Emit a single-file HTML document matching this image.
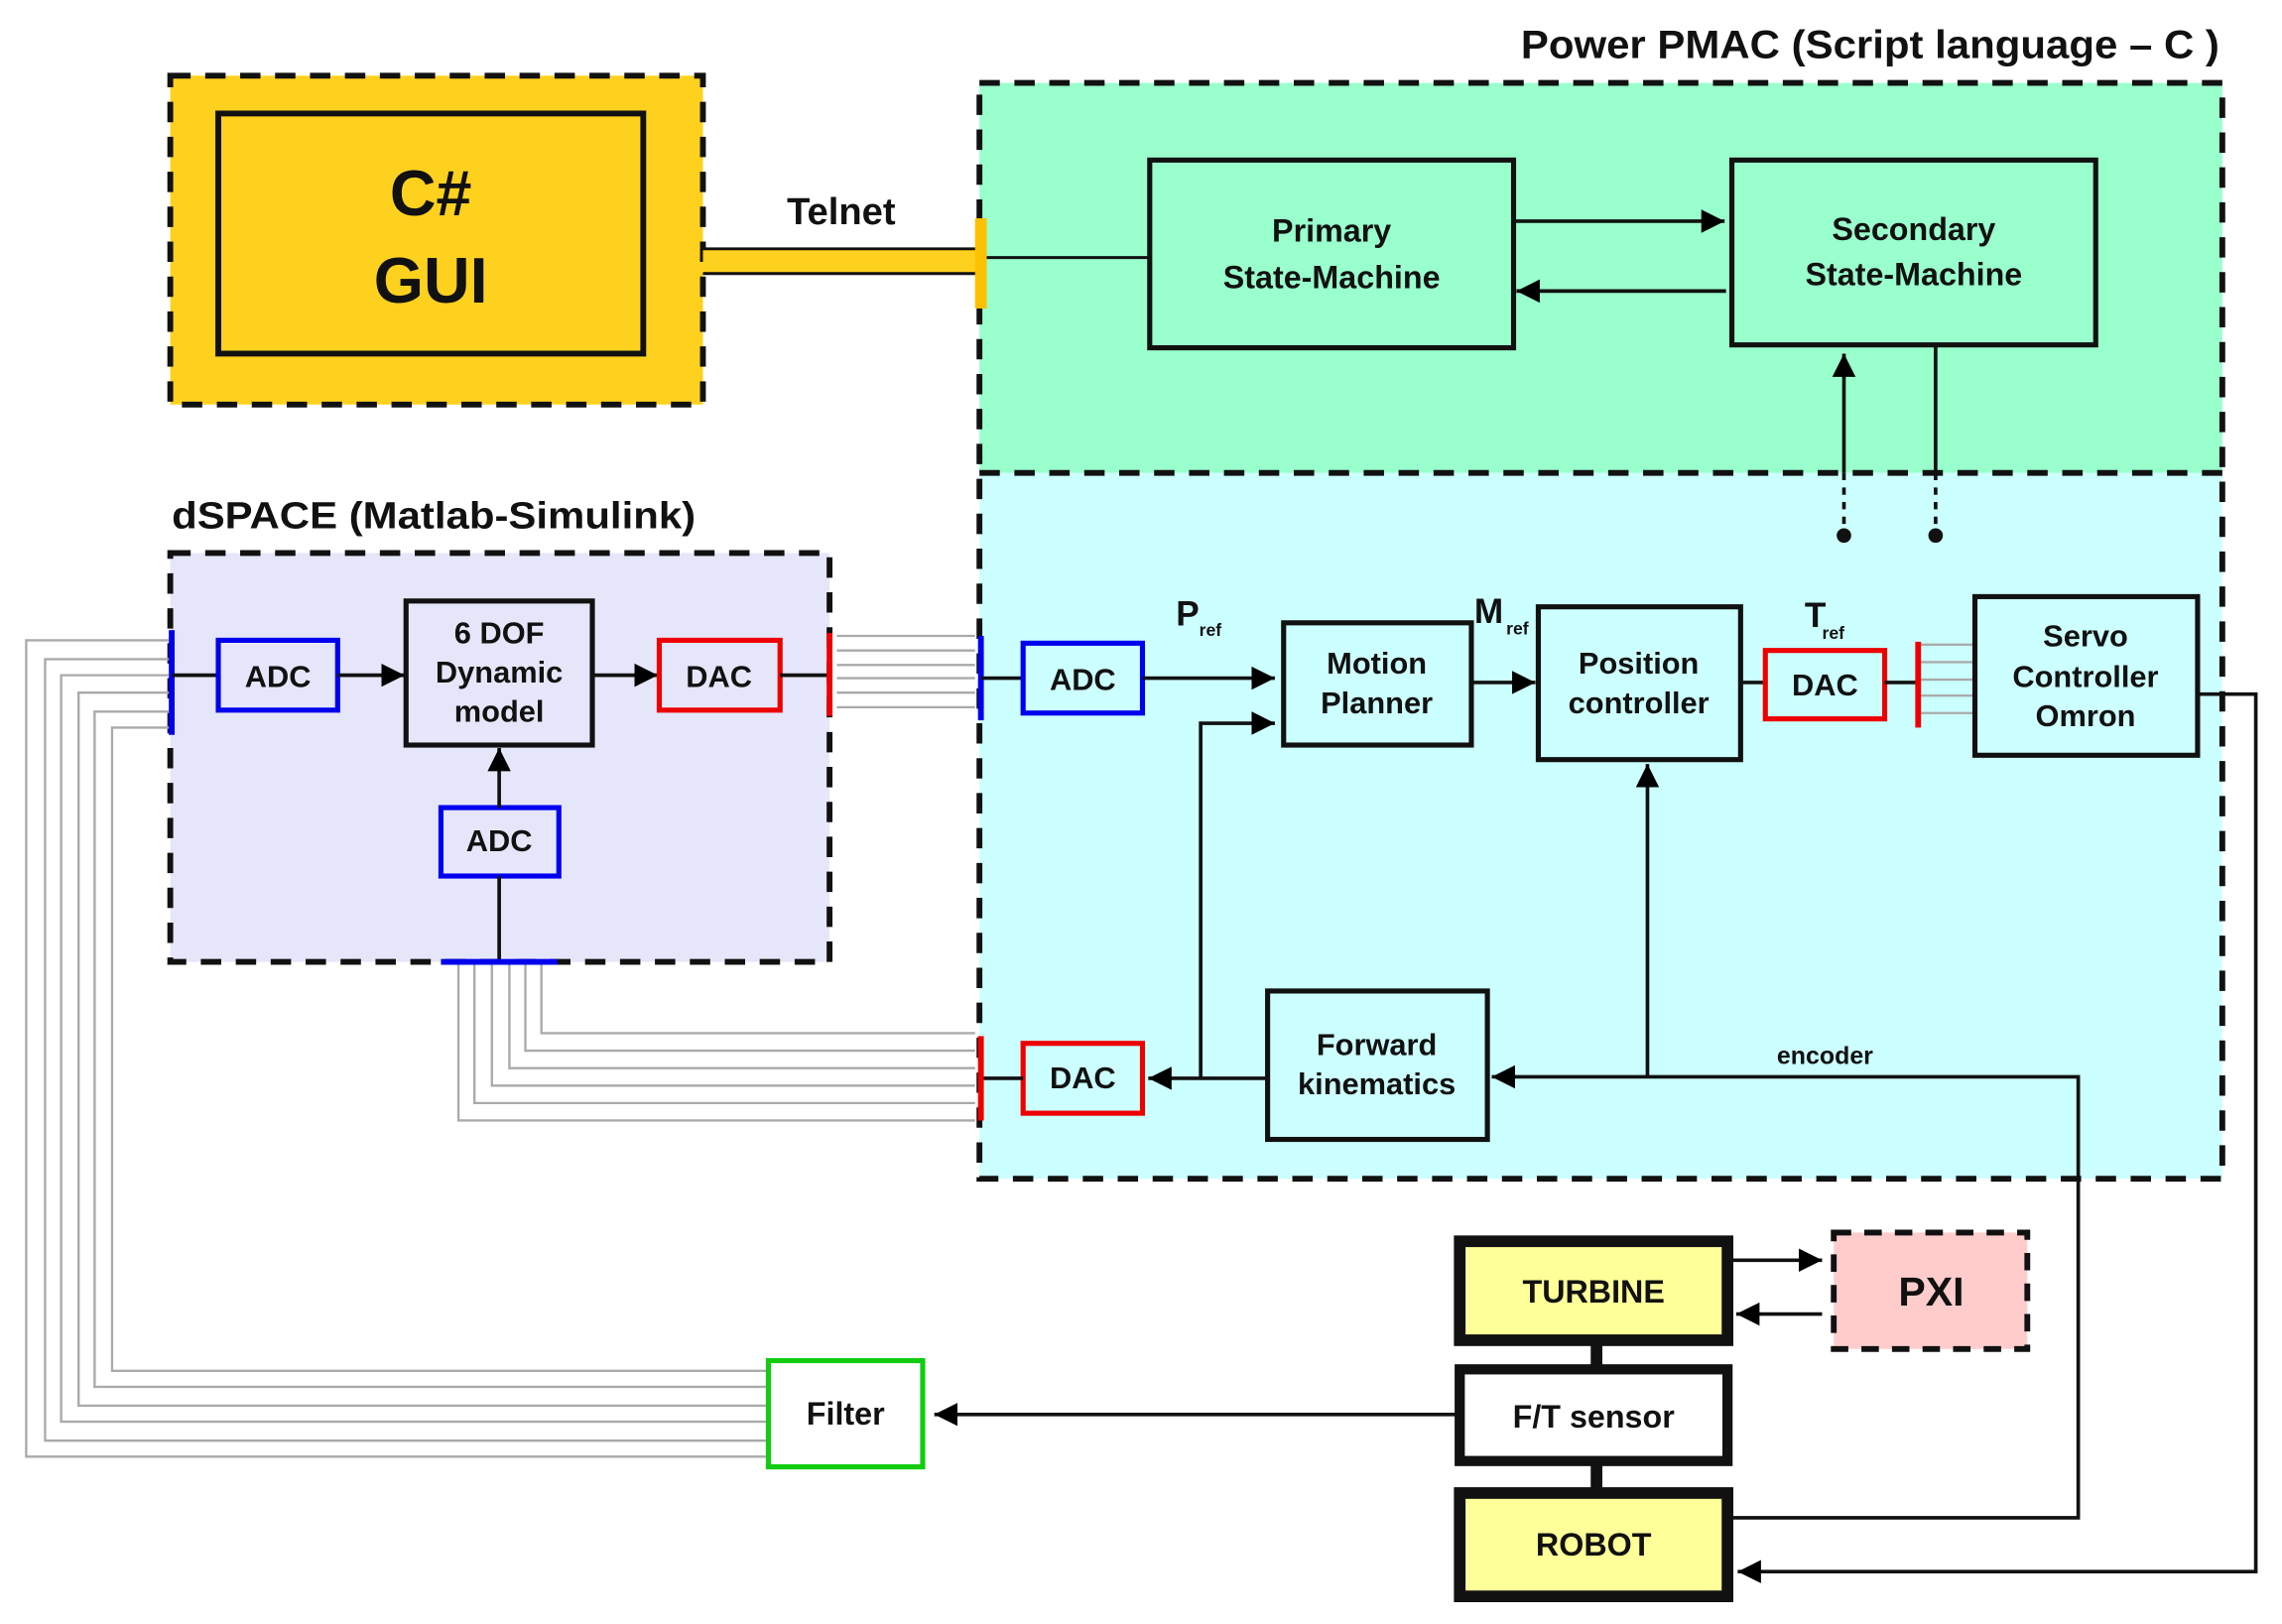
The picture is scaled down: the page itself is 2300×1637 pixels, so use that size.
<!DOCTYPE html>
<html><head><meta charset="utf-8"><style>html,body{margin:0;padding:0;background:#fff}svg{display:block}text{font-family:"Liberation Sans",sans-serif;font-weight:bold;fill:#111}</style></head>
<body>
<svg width="2300" height="1637" viewBox="0 0 1568 1116" preserveAspectRatio="none" xmlns="http://www.w3.org/2000/svg">
<defs>
<marker id="a" markerUnits="userSpaceOnUse" markerWidth="18" markerHeight="18" refX="16" refY="9" orient="auto"><path d="M0,1 L16,9 L0,17 Z" fill="#000"/></marker>
</defs>
<rect x="117" y="52" width="366" height="226" fill="#FFD11F" stroke="#111" stroke-width="4" stroke-dasharray="14,10"/>
<rect x="150" y="78" width="292" height="165" fill="#FFD11F" stroke="#111" stroke-width="4"/>
<text x="296" y="148" font-size="44" text-anchor="middle">C#</text>
<text x="296" y="208" font-size="44" text-anchor="middle">GUI</text>

<rect x="673" y="57" width="854" height="268" fill="#99FFCC"/>
<rect x="673" y="325" width="854" height="485" fill="#CCFFFF"/>
<rect x="673" y="57" width="854" height="753" fill="none" stroke="#111" stroke-width="4" stroke-dasharray="14,10"/>
<line x1="673" y1="325" x2="1527" y2="325" stroke="#111" stroke-width="4" stroke-dasharray="14,10"/>
<text x="1045" y="40" font-size="27" textLength="480" lengthAdjust="spacingAndGlyphs">Power PMAC (Script language – C )</text>

<rect x="117" y="380" width="453" height="281" fill="#E6E6FA" stroke="#111" stroke-width="4" stroke-dasharray="14,10"/>
<text x="118" y="363" font-size="26" textLength="360" lengthAdjust="spacingAndGlyphs">dSPACE (Matlab-Simulink)</text>

<rect x="483" y="171" width="190" height="17" fill="#FFD11F"/>
<line x1="483" y1="171" x2="672" y2="171" stroke="#111" stroke-width="2"/>
<line x1="483" y1="188" x2="672" y2="188" stroke="#111" stroke-width="2"/>
<rect x="670" y="150" width="8" height="62" fill="#FFC000"/>
<text x="578" y="154" font-size="26" text-anchor="middle">Telnet</text>
<line x1="678" y1="177" x2="790" y2="177" stroke="#111" stroke-width="2"/>

<rect x="790" y="110" width="250" height="129" fill="#99FFCC" stroke="#111" stroke-width="3.5"/>
<text x="915" y="166" font-size="22" text-anchor="middle">Primary</text>
<text x="915" y="198" font-size="22" text-anchor="middle">State-Machine</text>
<rect x="1190" y="110" width="250" height="127" fill="#99FFCC" stroke="#111" stroke-width="3.5"/>
<text x="1315" y="165" font-size="22" text-anchor="middle">Secondary</text>
<text x="1315" y="196" font-size="22" text-anchor="middle">State-Machine</text>
<line x1="1040" y1="152" x2="1185" y2="152" stroke="#111" stroke-width="2.5" marker-end="url(#a)"/>
<line x1="1186" y1="200" x2="1042" y2="200" stroke="#111" stroke-width="2.5" marker-end="url(#a)"/>
<line x1="1267" y1="325" x2="1267" y2="243" stroke="#111" stroke-width="2.5" marker-end="url(#a)"/>
<line x1="1267" y1="325" x2="1267" y2="368" stroke="#111" stroke-width="2.5" stroke-dasharray="5,5"/>
<circle cx="1267" cy="368" r="5" fill="#111"/>
<line x1="1330" y1="237" x2="1330" y2="325" stroke="#111" stroke-width="2.5"/>
<line x1="1330" y1="325" x2="1330" y2="368" stroke="#111" stroke-width="2.5" stroke-dasharray="5,5"/>
<circle cx="1330" cy="368" r="5" fill="#111"/>

<rect x="116" y="433" width="4" height="72" fill="#0000EE"/>
<line x1="118" y1="464" x2="150" y2="464" stroke="#111" stroke-width="2.5"/>
<rect x="150" y="440" width="82" height="48" fill="#E6E6FA" stroke="#0000EE" stroke-width="3.5"/>
<text x="191" y="472" font-size="21" text-anchor="middle">ADC</text>
<line x1="232" y1="464" x2="278" y2="464" stroke="#111" stroke-width="2.5" marker-end="url(#a)"/>
<rect x="279" y="413" width="128" height="99" fill="#E6E6FA" stroke="#111" stroke-width="3.5"/>
<text x="343" y="442" font-size="21" text-anchor="middle">6 DOF</text>
<text x="343" y="469" font-size="21" text-anchor="middle">Dynamic</text>
<text x="343" y="496" font-size="21" text-anchor="middle">model</text>
<line x1="407" y1="464" x2="452" y2="464" stroke="#111" stroke-width="2.5" marker-end="url(#a)"/>
<rect x="453" y="440" width="83" height="48" fill="#E6E6FA" stroke="#EE0000" stroke-width="3.5"/>
<text x="494" y="472" font-size="21" text-anchor="middle">DAC</text>
<line x1="536" y1="464" x2="570" y2="464" stroke="#111" stroke-width="2.5"/>
<rect x="568" y="435" width="4" height="57" fill="#EE0000"/>
<rect x="303" y="555" width="81" height="47" fill="#E6E6FA" stroke="#0000EE" stroke-width="3.5"/>
<text x="343" y="585" font-size="21" text-anchor="middle">ADC</text>
<line x1="343" y1="661" x2="343" y2="602" stroke="#111" stroke-width="2.5"/>
<line x1="343" y1="555" x2="343" y2="514" stroke="#111" stroke-width="2.5" marker-end="url(#a)"/>
<rect x="303" y="659" width="80" height="4" fill="#0000EE"/>

<g stroke="#aaa" stroke-width="1.6" fill="none">
<path d="M575,437H670M575,447H670M575,457H670M575,466H670M575,476H670M575,486H670"/>
<path d="M1320,443H1357M1320,455H1357M1320,467H1357M1320,478H1357M1320,490H1357"/>
<path d="M315,663V770H670M326,663V758H670M338,663V746H670M350,663V734H670M361,663V722H670M372,663V710H670"/>
<path d="M116,440H18V1001H528M116,453H31V990H528M116,464H42V977H528M116,476H54V966H528M116,489H65V953H528M116,500H77V942H528"/>
</g>

<rect x="672" y="437" width="4" height="58" fill="#0000EE"/>
<line x1="674" y1="466" x2="703" y2="466" stroke="#111" stroke-width="2.5"/>
<rect x="703" y="442" width="82" height="48" fill="#CCFFFF" stroke="#0000EE" stroke-width="3.5"/>
<text x="744" y="474" font-size="21" text-anchor="middle">ADC</text>
<line x1="785" y1="466" x2="876" y2="466" stroke="#111" stroke-width="2.5" marker-end="url(#a)"/>
<text x="808" y="430" font-size="24">P</text><text x="824" y="437" font-size="12" font-weight="normal">ref</text>
<rect x="882" y="428" width="129" height="84" fill="#CCFFFF" stroke="#111" stroke-width="3.5"/>
<text x="946" y="463" font-size="21" text-anchor="middle">Motion</text>
<text x="946" y="490" font-size="21" text-anchor="middle">Planner</text>
<line x1="1011" y1="469" x2="1055" y2="469" stroke="#111" stroke-width="2.5" marker-end="url(#a)"/>
<text x="1013" y="428" font-size="24">M</text><text x="1035" y="436" font-size="12" font-weight="normal">ref</text>
<rect x="1057" y="417" width="139" height="105" fill="#CCFFFF" stroke="#111" stroke-width="3.5"/>
<text x="1126" y="463" font-size="21" text-anchor="middle">Position</text>
<text x="1126" y="490" font-size="21" text-anchor="middle">controller</text>
<line x1="1196" y1="469" x2="1213" y2="469" stroke="#111" stroke-width="2.5"/>
<rect x="1213" y="447" width="82" height="47" fill="#CCFFFF" stroke="#EE0000" stroke-width="3.5"/>
<text x="1254" y="478" font-size="21" text-anchor="middle">DAC</text>
<text x="1240" y="431" font-size="24">T</text><text x="1252" y="439" font-size="12" font-weight="normal">ref</text>
<line x1="1295" y1="469" x2="1318" y2="469" stroke="#111" stroke-width="2.5"/>
<rect x="1316" y="441" width="4" height="59" fill="#EE0000"/>
<rect x="1357" y="410" width="153" height="109" fill="#CCFFFF" stroke="#111" stroke-width="3.5"/>
<text x="1433" y="444" font-size="21" text-anchor="middle">Servo</text>
<text x="1433" y="472" font-size="21" text-anchor="middle">Controller</text>
<text x="1433" y="499" font-size="21" text-anchor="middle">Omron</text>
<polyline points="1510,477 1550,477 1550,1080 1194,1080" fill="none" stroke="#111" stroke-width="2.5" marker-end="url(#a)"/>

<line x1="1132" y1="740" x2="1132" y2="525" stroke="#111" stroke-width="2.5" marker-end="url(#a)"/>
<rect x="871" y="681" width="151" height="102" fill="#CCFFFF" stroke="#111" stroke-width="3.5"/>
<text x="946" y="725" font-size="21" text-anchor="middle">Forward</text>
<text x="946" y="752" font-size="21" text-anchor="middle">kinematics</text>
<polyline points="1188,1043 1428,1043 1428,740 1025,740" fill="none" stroke="#111" stroke-width="2.5" marker-end="url(#a)"/>
<text x="1254" y="731" font-size="17" font-weight="normal" text-anchor="middle">encoder</text>
<line x1="871" y1="741" x2="789" y2="741" stroke="#111" stroke-width="2.5" marker-end="url(#a)"/>
<polyline points="825,741 825,497 876,497" fill="none" stroke="#111" stroke-width="2.5" marker-end="url(#a)"/>
<rect x="703" y="717" width="82" height="48" fill="#CCFFFF" stroke="#EE0000" stroke-width="3.5"/>
<text x="744" y="748" font-size="21" text-anchor="middle">DAC</text>
<line x1="674" y1="741" x2="703" y2="741" stroke="#111" stroke-width="2.5"/>
<rect x="672" y="712" width="4" height="58" fill="#EE0000"/>

<rect x="528" y="935" width="106" height="73" fill="#fff" stroke="#11CC11" stroke-width="3.5"/>
<text x="581" y="979" font-size="22" text-anchor="middle">Filter</text>
<line x1="1003" y1="972" x2="642" y2="972" stroke="#111" stroke-width="2.5" marker-end="url(#a)"/>
<line x1="1097" y1="921" x2="1097" y2="1026" stroke="#111" stroke-width="8"/>
<rect x="1003" y="853" width="184" height="68" fill="#FFFF99" stroke="#111" stroke-width="8"/>
<text x="1095" y="895" font-size="22" text-anchor="middle">TURBINE</text>
<rect x="1003" y="941" width="184" height="63" fill="#fff" stroke="#111" stroke-width="7"/>
<text x="1095" y="981" font-size="22" text-anchor="middle">F/T sensor</text>
<rect x="1003" y="1026" width="184" height="71" fill="#FFFF99" stroke="#111" stroke-width="8"/>
<text x="1095" y="1069" font-size="22" text-anchor="middle">ROBOT</text>
<rect x="1260" y="847" width="133" height="80" fill="#FFCCCC" stroke="#111" stroke-width="4" stroke-dasharray="12,9"/>
<text x="1327" y="897" font-size="28" text-anchor="middle">PXI</text>
<line x1="1191" y1="866" x2="1252" y2="866" stroke="#111" stroke-width="2.5" marker-end="url(#a)"/>
<line x1="1252" y1="903" x2="1193" y2="903" stroke="#111" stroke-width="2.5" marker-end="url(#a)"/>
</svg>
</body></html>
